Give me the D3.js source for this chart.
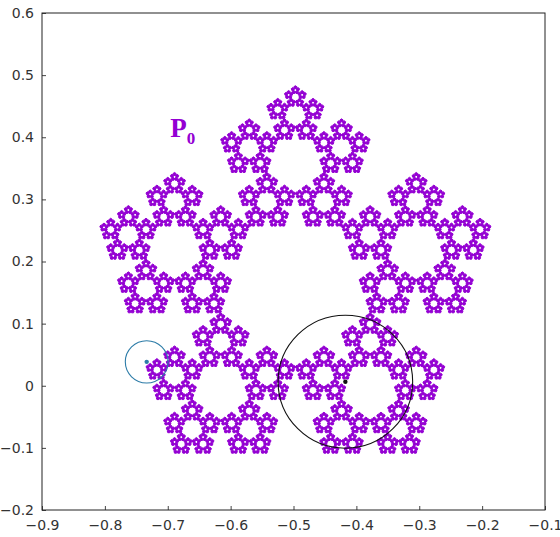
<!DOCTYPE html>
<html>
<head>
<meta charset="utf-8">
<script src="https://cdn.jsdelivr.net/npm/d3@7"></script>
<style>
  body { margin: 0; background: #fff; }
  .tick text { font-family: "DejaVu Sans", Verdana, sans-serif; font-size: 14px; fill: #333; }
</style>
</head>
<body>
<div id="chart"></div>
<script>
var svgWidth = 560;
var svgHeight = 537;

var margin = { top: 13, right: 15, bottom: 27, left: 42 };
var width = svgWidth - margin.left - margin.right;
var height = svgHeight - margin.top - margin.bottom;

// data
var xTicks = [-0.9, -0.8, -0.7, -0.6, -0.5, -0.4, -0.3, -0.2, -0.1];
var yTicks = [-0.2, -0.1, 0, 0.1, 0.2, 0.3, 0.4, 0.5, 0.6];
var xDomain = [-0.9, -0.1];
var yDomain = [-0.2, 0.6];

// Sierpinski pentagon P0: centre, circumradius, depth, scale ratio
var flakeCenter = [-0.497, 0.156];
var flakeRadius = 0.327;
var flakeDepth = 5;
var flakeRatio = 0.382;

// circles: centre x, centre y, radius
var bigCircle = [-0.4175, 0.0065, 0.107];
var smallCircle = [-0.7335, 0.0385, 0.034];

var label = ["P", "0"];
var labelPos = [-0.696, 0.4];

var svg = d3.select("#chart")
  .append("svg")
  .attr("width", svgWidth)
  .attr("height", svgHeight);

var chartGroup = svg.append("g")
  .attr("transform", `translate(${margin.left}, ${margin.top})`);

var x = d3.scaleLinear().domain(xDomain).range([0, width]);
var y = d3.scaleLinear().domain(yDomain).range([height, 0]);

// collect the smallest pentagons
var pentagons = [];
function flake(cx, cy, R, level) {
  if (level === 0) {
    pentagons.push([cx, cy, R]);
    return;
  }
  for (var k = 0; k < 5; k++) {
    var a = Math.PI / 2 + k * 2 * Math.PI / 5;
    var d = (1 - flakeRatio) * R;
    flake(cx + d * Math.cos(a), cy + d * Math.sin(a), R * flakeRatio, level - 1);
  }
}
flake(flakeCenter[0], flakeCenter[1], flakeRadius, flakeDepth);

var p = d3.path();
pentagons.forEach(function(pg) {
  for (var k = 0; k < 5; k++) {
    var a = Math.PI / 2 + k * 2 * Math.PI / 5;
    var px = x(pg[0] + pg[2] * Math.cos(a));
    var py = y(pg[1] + pg[2] * Math.sin(a));
    if (k === 0) p.moveTo(px, py); else p.lineTo(px, py);
  }
  p.closePath();
});

chartGroup.append("path")
  .attr("d", p.toString())
  .attr("fill", "#9400d3")
  .attr("stroke", "#9400d3")
  .attr("stroke-width", 1)
  .attr("stroke-linejoin", "round");

// circles
function drawCircle(c, color) {
  chartGroup.append("ellipse")
    .attr("cx", x(c[0]))
    .attr("cy", y(c[1]))
    .attr("rx", x(c[0] + c[2]) - x(c[0]))
    .attr("ry", y(c[1]) - y(c[1] + c[2]))
    .attr("fill", "none")
    .attr("stroke", color)
    .attr("stroke-width", 1.1);
  chartGroup.append("circle")
    .attr("cx", x(c[0]))
    .attr("cy", y(c[1]))
    .attr("r", 2.2)
    .attr("fill", color);
}
drawCircle(bigCircle, "#111");
drawCircle(smallCircle, "#2d7ca8");

// axes
var bottomAxis = d3.axisBottom(x).tickValues(xTicks).tickSize(-4).tickPadding(10).tickFormat(d3.format("~g"));
var leftAxis = d3.axisLeft(y).tickValues(yTicks).tickSize(-4).tickPadding(8).tickFormat(d3.format("~g"));

var gx = chartGroup.append("g")
  .attr("transform", `translate(0, ${height})`)
  .call(bottomAxis);
var gy = chartGroup.append("g")
  .call(leftAxis);
[gx, gy].forEach(function(g) {
  g.select(".domain").remove();
  g.selectAll(".tick line").attr("stroke", "#444");
});

// frame
chartGroup.append("rect")
  .attr("width", width)
  .attr("height", height)
  .attr("fill", "none")
  .attr("stroke", "#222")
  .attr("stroke-width", 1);

// P0 label
var t = chartGroup.append("text")
  .attr("x", x(labelPos[0]))
  .attr("y", y(labelPos[1]))
  .attr("font-family", "'Liberation Serif', 'DejaVu Serif', serif")
  .attr("font-weight", "bold")
  .attr("font-size", 27)
  .attr("fill", "#9400d3");
t.append("tspan").text(label[0]);
t.append("tspan").attr("dy", 7).attr("font-size", 17).text(label[1]);
</script>
</body>
</html>
